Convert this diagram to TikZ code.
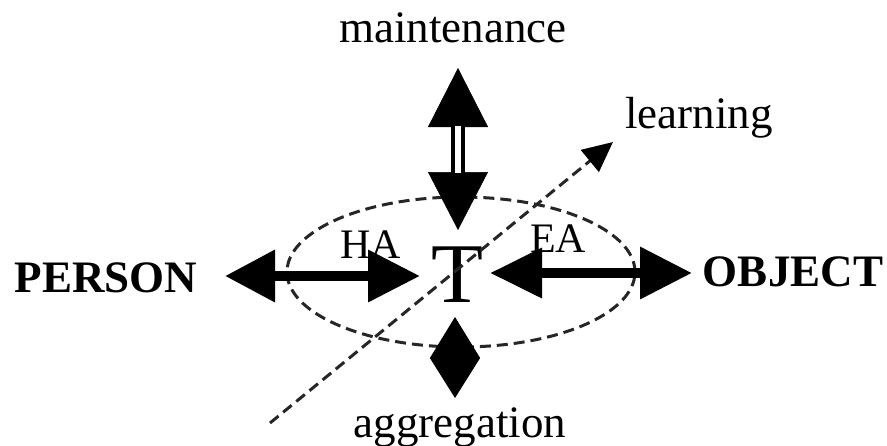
\documentclass[tikz,border=0pt]{standalone}
\usepackage{fontspec}
\setmainfont{Liberation Serif}
\usetikzlibrary{arrows.meta}
\begin{document}
\begin{tikzpicture}[x=1pt,y=-1pt,
  lbl/.style={inner sep=0pt, font=\fontsize{45}{54}\selectfont},
  blbl/.style={inner sep=0pt, font=\fontsize{45}{54}\selectfont\bfseries},
  slbl/.style={inner sep=0pt, font=\fontsize{42}{50}\selectfont},
  dsh/.style={line width=3pt, dash pattern=on 11pt off 6pt, color=black!85},
  bigarr/.style={line width=10pt, {Triangle[length=50pt,width=50pt]}-{Triangle[length=52pt,width=50pt]}}
]
\useasboundingbox (0,0) rectangle (887,445);

% ellipse
\draw[dsh] (461,272) ellipse [x radius=174pt, y radius=75pt];

% named end points
\coordinate (m1) at (458,68);
\coordinate (m2) at (458,230);
\coordinate (h1) at (225,276);
\coordinate (h2) at (420,276);
\coordinate (e1) at (490,273);
\coordinate (e2) at (692,273);
\coordinate (g1) at (455,317);
\coordinate (g2) at (455,398);
\coordinate (l1) at (270,423);
\coordinate (l2) at (613,142);

% labels
\node[lbl, anchor=base] (maint) at (453,42) {maintenance};
\node[lbl, anchor=base] (learn) at (699,128) {learning};
\node[lbl, anchor=base] (aggr) at (460,437) {aggregation};
\node[blbl] (person) at (106,278) {PERSON};
\node[blbl] (object) at (793,272) {OBJECT};
\node[slbl] (ha) at (371,245) {HA};
\node[slbl] (ea) at (558,239) {EA};
\node[inner sep=0pt, font=\fontsize{85}{90}\selectfont] (t) at (457,275) {T};

% maintenance double arrow
\draw[white, line width=0.5pt, {Triangle[length=59pt,width=60pt,color=black]}-{Triangle[length=58pt,width=60pt,color=black]}] (m1) -- (m2);
\draw[line width=4pt, double=white, double distance=6pt, shorten <=58pt, shorten >=57pt] (m1) -- (m2);

% HA and EA arrows
\draw[bigarr] (h1) -- (h2);
\draw[line width=10pt, {Triangle[length=52pt,width=48pt]}-{Triangle[length=52pt,width=50pt]}] (e1) -- (e2);

% aggregation
\draw[line width=1pt, {Triangle[length=41pt,width=50pt]}-{Triangle[length=40pt,width=50pt]}] (g1) -- (g2);

% learning
\draw[dsh, -{Triangle[length=30pt,width=28pt,color=black]}] (l1) -- (l2);
\end{tikzpicture}
\end{document}
